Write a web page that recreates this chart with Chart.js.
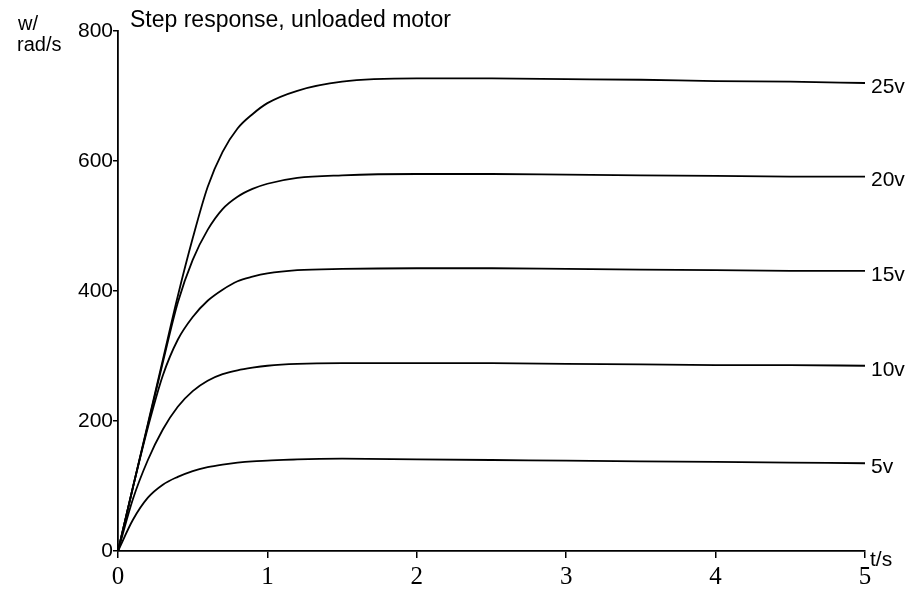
<!DOCTYPE html>
<html>
<head>
<meta charset="utf-8">
<script src="https://cdn.jsdelivr.net/npm/chart.js@4"></script>
<style>
  html, body { margin: 0; padding: 0; background: #fff; }
  #wrap { width: 918px; height: 591px; }
</style>
</head>
<body>
<div id="wrap"><canvas id="myChart"></canvas></div>
<script>
const times = [0, 0.1, 0.2, 0.3, 0.4, 0.5, 0.6, 0.7, 0.8, 0.9, 1.0, 1.2, 1.5, 2, 2.5, 3, 3.5, 4, 4.5, 5];

const v5  = [0, 48, 82, 102, 114, 123, 129, 133, 136, 138, 139, 141, 142, 141, 140, 139, 138, 137, 136, 135];
const v10 = [0, 80, 140, 187, 222, 246, 262, 272, 278, 282, 285, 288, 289, 289, 289, 288, 287, 286, 286, 285];
const v15 = [0, 98, 190, 270, 325, 360, 385, 402, 415, 422, 427, 432, 434, 435, 435, 434, 433, 432, 431, 431];
const v20 = [0, 98, 194, 290, 382, 448, 494, 526, 545, 557, 565, 574, 578, 580, 580, 579, 578, 577, 576, 576];
const v25 = [0, 98, 196, 294, 392, 481, 560, 614, 650, 672, 689, 708, 722, 727, 727, 726, 725, 723, 722, 720];

const seriesLabels = ['5v', '10v', '15v', '20v', '25v'];
const series = [v5, v10, v15, v20, v25];

const xTicks = [0, 1, 2, 3, 4, 5];
const yTicks = [0, 200, 400, 600, 800];

const SANS = '"Liberation Sans", Arial, sans-serif';
const SERIF = '"Liberation Serif", "Times New Roman", serif';

const datasets = series.map((vals, i) => ({
  label: seriesLabels[i],
  data: vals.map((v, j) => ({ x: times[j], y: v })),
  borderColor: '#000',
  borderWidth: 1.8,
  pointRadius: 0,
  fill: false,
  cubicInterpolationMode: 'monotone'
}));

// text around the plot: title, axis names, line labels
const annotate = {
  id: 'annotate',
  afterDatasetsDraw(chart) {
    const c = chart.ctx;
    const area = chart.chartArea;
    c.save();
    c.fillStyle = '#000';
    c.font = '23px ' + SANS;
    c.textBaseline = 'alphabetic';
    c.textAlign = 'left';
    c.fillText('Step response, unloaded motor', area.left + 12, 27);

    c.font = '20px ' + SANS;
    c.fillText('w/', 18, 30);
    c.fillText('rad/s', 17, 51);
    c.font = '21px ' + SANS;
    c.fillText('t/s', area.right + 5, area.bottom + 15);

    c.font = '21px ' + SANS;
    c.textBaseline = 'middle';
    chart.data.datasets.forEach((ds, i) => {
      const pts = chart.getDatasetMeta(i).data;
      const last = pts[pts.length - 1];
      c.fillText(ds.label, last.x + 6, last.y + 4);
    });
    c.restore();
  }
};

new Chart(document.getElementById('myChart'), {
  type: 'line',
  data: { datasets: datasets },
  plugins: [annotate],
  options: {
    responsive: true,
    maintainAspectRatio: false,
    animation: false,
    layout: { padding: { top: 31, right: 53, left: 0, bottom: 0 } },
    plugins: {
      legend: { display: false },
      title: { display: false },
      tooltip: { enabled: false }
    },
    scales: {
      x: {
        type: 'linear',
        min: 0,
        max: 5,
        afterFit(scale) { scale.height = 40; },
        afterBuildTicks(scale) { scale.ticks = xTicks.map(v => ({ value: v })); },
        border: { display: true, color: '#000', width: 1.8 },
        grid: { display: true, drawOnChartArea: false, drawTicks: true, tickLength: 7, color: '#000', lineWidth: 1.5 },
        ticks: {
          color: '#000',
          font: { family: SERIF, size: 25 },
          padding: 4,
          maxRotation: 0
        }
      },
      y: {
        type: 'linear',
        min: 0,
        max: 800,
        afterFit(scale) { scale.width = 118; },
        afterBuildTicks(scale) { scale.ticks = yTicks.map(v => ({ value: v })); },
        border: { display: true, color: '#000', width: 1.8 },
        grid: { display: true, drawOnChartArea: false, drawTicks: true, tickLength: 5, color: '#000', lineWidth: 1.5 },
        ticks: {
          color: '#000',
          font: { family: SANS, size: 21 },
          padding: 0
        }
      }
    }
  }
});
</script>
</body>
</html>
